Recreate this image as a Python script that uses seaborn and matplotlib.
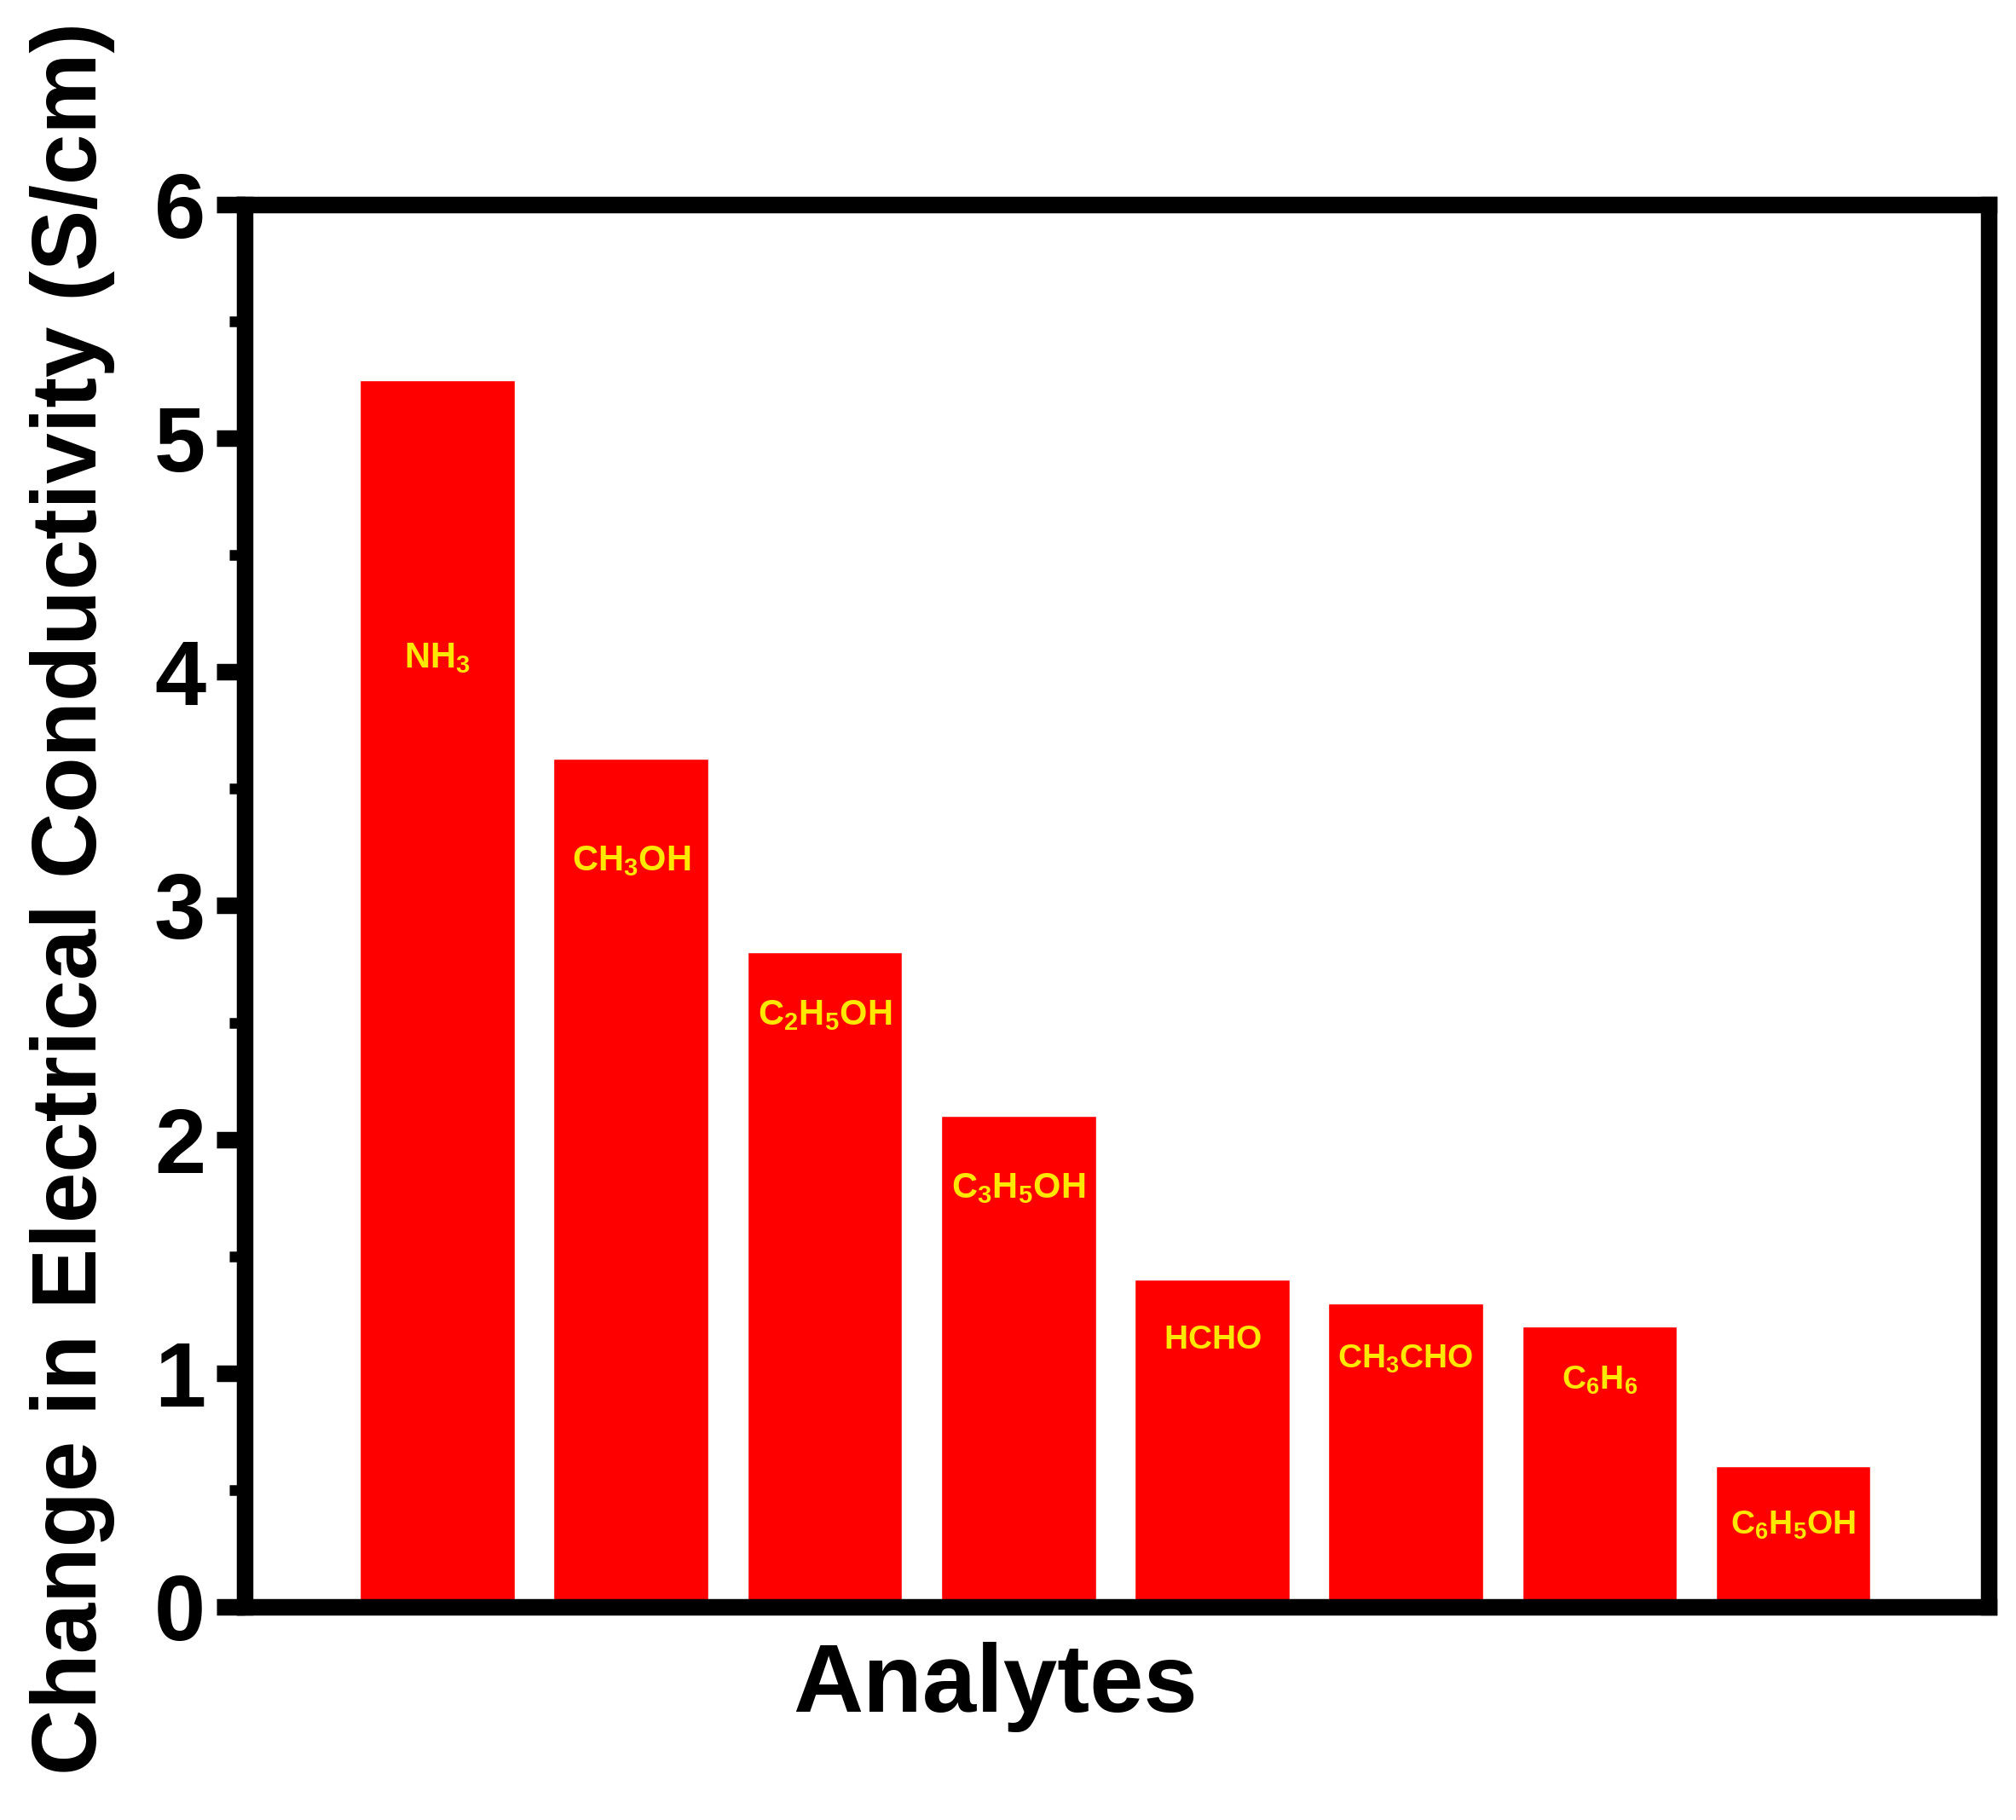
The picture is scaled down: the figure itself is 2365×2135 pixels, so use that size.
import matplotlib
matplotlib.use("Agg")
import matplotlib.pyplot as plt
import seaborn as sns
import pandas as pd
from matplotlib import font_manager
from matplotlib.ticker import MultipleLocator

analytes = ["NH3", "CH3OH", "C2H5OH", "C3H5OH", "HCHO", "CH3CHO", "C6H6", "C6H5OH"]
formulas = ["NH_3", "CH_3OH", "C_2H_5OH", "C_3H_5OH", "HCHO", "CH_3CHO", "C_6H_6", "C_6H_5OH"]
narrow_label = [False, False, False, False, True, True, True, True]
conductivity = [5.25, 3.63, 2.80, 2.10, 1.40, 1.30, 1.20, 0.60]
label_y = [4.06, 3.19, 2.53, 1.79, 1.14, 1.06, 0.97, 0.35]
yticks = [0, 1, 2, 3, 4, 5, 6]

data = pd.DataFrame({"Analyte": analytes, "Change": conductivity})

# narrow face for the last labels, if it is installed
try:
    font_manager.findfont(font_manager.FontProperties(family="Liberation Sans Narrow", weight="bold"),
                          fallback_to_default=False)
    narrow = "Liberation Sans Narrow"
except ValueError:
    narrow = None

sns.set_style("ticks")
plt.rcParams["font.family"] = ["Liberation Sans", "DejaVu Sans"]
plt.rcParams["font.weight"] = "bold"
plt.rcParams["text.color"] = "black"
plt.rcParams["axes.labelcolor"] = "black"
plt.rcParams["ytick.color"] = "black"
plt.rcParams["ytick.labelsize"] = 78
plt.rcParams["mathtext.fontset"] = "custom"
plt.rcParams["mathtext.bf"] = "Liberation Sans:bold"
plt.rcParams["mathtext.rm"] = "Liberation Sans:bold"
plt.rcParams["mathtext.sf"] = (narrow or "Liberation Sans") + ":bold"

fig = plt.figure(figsize=(23.65, 21.35), dpi=100)
ax = fig.add_axes([0.1214, 0.1171, 0.8651, 0.7705])

sns.barplot(data=data, x="Analyte", y="Change", color="#ff0000", saturation=1,
            width=0.8, ax=ax, zorder=1)

for i, (f, nar, ly) in enumerate(zip(formulas, narrow_label, label_y)):
    if nar and narrow:
        txt, size = r"$\mathsf{" + f + "}$", 33
    elif nar:
        txt, size = r"$\mathbf{" + f + "}$", 28
    else:
        txt, size = r"$\mathbf{" + f + "}$", 30
    ax.text(i, ly, txt, color="#ffe800", fontsize=size, ha="center", va="center", zorder=3)

ax.set_xlim(-0.995, 8.01)
ax.set_ylim(0, 6)
ax.set_yticks(yticks)
ax.yaxis.set_minor_locator(MultipleLocator(0.5))
ax.tick_params(axis="y", which="major", direction="out", length=24, width=14,
               pad=9, labelsize=78)
ax.tick_params(axis="y", which="minor", direction="out", length=13, width=9)
ax.tick_params(axis="x", which="both", bottom=False, labelbottom=False)

for side in ["left", "right", "top", "bottom"]:
    ax.spines[side].set_visible(True)
    ax.spines[side].set_linewidth(14)
    ax.spines[side].set_color("black")
    ax.spines[side].set_zorder(2)

ax.set_xlabel("Analytes", fontsize=82, fontweight="bold", va="center", color="black")
ax.xaxis.set_label_coords(0.4305, -0.057)
ax.set_ylabel("Change in Electrical Conductivity (S/cm)", fontsize=77,
              fontweight="bold", va="center", color="black")
ax.yaxis.set_label_coords(-0.099, 0.505)

plt.savefig("out.png", dpi=100)
plt.close()
